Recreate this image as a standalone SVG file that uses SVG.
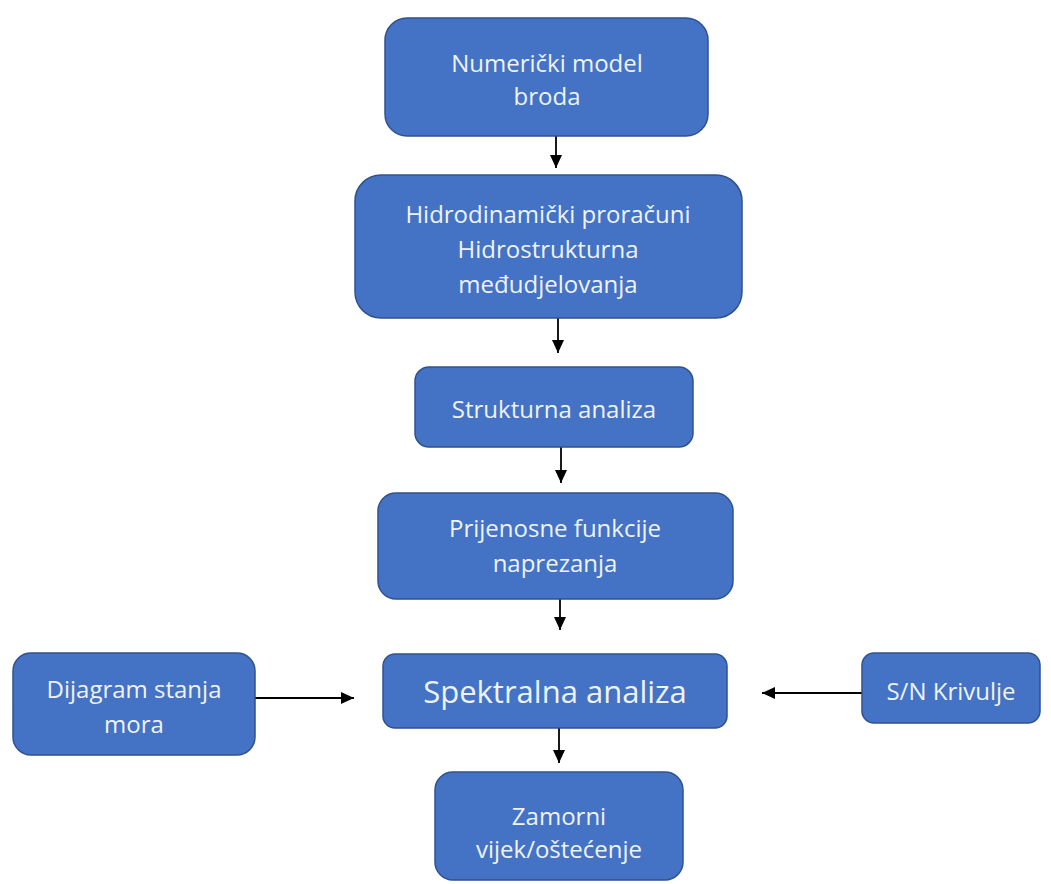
<svg xmlns="http://www.w3.org/2000/svg" width="1051" height="884" viewBox="0 0 1051 884">
<style>
.box{fill:#4472C4;stroke:#2F528F;stroke-width:1.5}
.t{font-family:"Open Sans","Liberation Sans",sans-serif;font-size:24px;fill:#EEF3FB;text-anchor:middle}
.big{font-size:31px}
.c{stroke:#000;stroke-width:1.8;fill:none;marker-end:url(#ah)}
</style>
<defs>
<marker id="ah" viewBox="0 0 13 12" refX="13" refY="6" markerWidth="13" markerHeight="12" markerUnits="userSpaceOnUse" orient="auto">
<path d="M0,0 L13,6 L0,12 z" fill="#000"/>
</marker>
</defs>
<rect width="1051" height="884" fill="#fff"/>
<g id="connectors">
<path class="c" d="M556 136 V168"/>
<path class="c" d="M558 318 V353"/>
<path class="c" d="M561 447 V483"/>
<path class="c" d="M560 599 V630"/>
<path class="c" d="M559 728 V763"/>
<path class="c" d="M255 698 H354"/>
<path class="c" d="M862 693 H762"/>
</g>
<g id="n1"><rect class="box" x="385" y="18" width="323" height="118" rx="22"/>
<text class="t" x="547" y="72">Numerički model</text><text class="t" x="547" y="105">broda</text></g>
<g id="n2"><rect class="box" x="355" y="175" width="387" height="143" rx="26"/>
<text class="t" x="548" y="223">Hidrodinamički proračuni</text><text class="t" x="548" y="258">Hidrostrukturna</text><text class="t" x="548" y="293">međudjelovanja</text></g>
<g id="n3"><rect class="box" x="415" y="367" width="278" height="80" rx="14"/>
<text class="t" x="554" y="418">Strukturna analiza</text></g>
<g id="n4"><rect class="box" x="378" y="493" width="355" height="106" rx="18"/>
<text class="t" x="555" y="537">Prijenosne funkcije</text><text class="t" x="555" y="572">naprezanja</text></g>
<g id="n5"><rect class="box" x="383" y="654" width="344" height="74" rx="12"/>
<text class="t big" x="555" y="703">Spektralna analiza</text></g>
<g id="n6"><rect class="box" x="13" y="653" width="242" height="102" rx="18"/>
<text class="t" x="134" y="698">Dijagram stanja</text><text class="t" x="134" y="733">mora</text></g>
<g id="n7"><rect class="box" x="862" y="653" width="178" height="70" rx="12"/>
<text class="t" x="951" y="700">S/N Krivulje</text></g>
<g id="n8"><rect class="box" x="435" y="772" width="248" height="108" rx="18"/>
<text class="t" x="559" y="825">Zamorni</text><text class="t" x="559" y="858">vijek/oštećenje</text></g>
</svg>
